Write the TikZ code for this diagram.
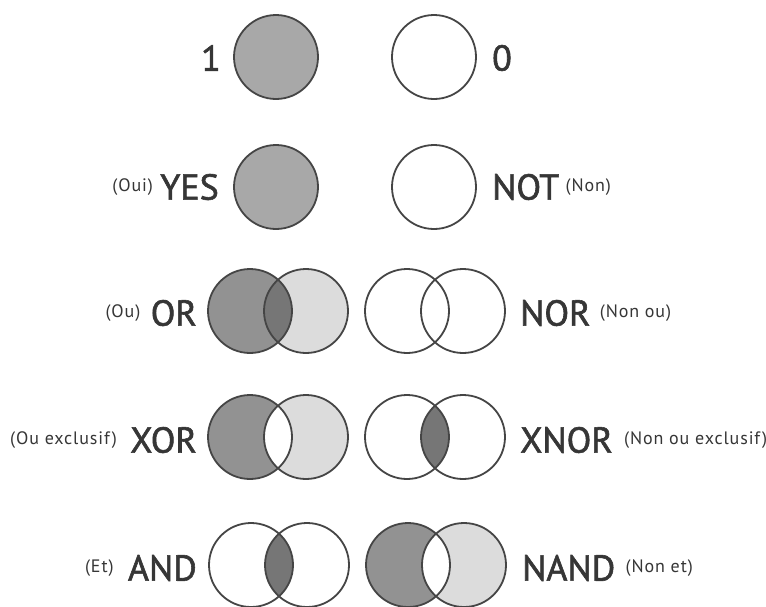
\documentclass[tikz,border=0pt]{standalone}
\usepackage{fontspec}
\setmainfont{PT Sans}
\newfontfamily\gatefont[FakeBold=1.6]{PT Sans}
\newfontfamily\glossfont[LetterSpace=5]{PT Sans}
\usetikzlibrary{positioning}

\definecolor{ink}{HTML}{363636}
\definecolor{rim}{HTML}{454545}
\definecolor{gmid}{HTML}{A8A8A8}
\definecolor{gleft}{HTML}{929292}
\definecolor{glight}{HTML}{DCDCDC}
\definecolor{glens}{HTML}{767676}

\tikzset{
	gate/.style={font=\gatefont\fontsize{36}{36}\selectfont, text=ink, inner sep=0pt},
	gloss/.style={font=\glossfont\fontsize{18}{18}\selectfont, text=ink, inner sep=0pt},
	rimline/.style={draw=rim, line width=1.8pt},
}

\begin{document}
\begin{tikzpicture}[x=1pt,y=-1pt]
	\fill[white] (0,0) rectangle (766,606);
	\useasboundingbox (0,0) rectangle (766,606);

	% Cercles simples
	\fill[gmid] (276,57) circle (42);
	\draw[rimline] (276,57) circle (42);
	\draw[rimline] (434,57) circle (42);
	\fill[gmid] (276,187) circle (42);
	\draw[rimline] (276,187) circle (42);
	\draw[rimline] (434,187) circle (42);

	% Parelles de cercles
	\foreach \x/\y/\lf/\rf/\mf in {250/311/gleft/glight/glens,
			407/311/white/white/white,
			250/437/gleft/glight/white,
			407/437/white/white/glens,
			251/565/white/white/glens,
			408/565/gleft/glight/white} {
		\fill[\lf] (\x,\y) circle (42);
		\fill[\rf] (\x+56,\y) circle (42);
		\begin{scope}
			\clip (\x,\y) circle (42);
			\fill[\mf] (\x+56,\y) circle (42);
		\end{scope}
		\draw[rimline] (\x,\y) circle (42) (\x+56,\y) circle (42);
	}

	% Etiquetes
	\node[gate, anchor=east] (one) at (221,58) {1};
	\node[gate, anchor=west] (zero) at (492,58) {0};

	\node[gate, anchor=east] (yes) at (219,187) {YES};
	\node[gloss, left=7pt of yes] (oui) {(Oui)};
	\node[gate, anchor=west] (not) at (492,187) {NOT};
	\node[gloss, right=6pt of not] (non) {(Non)};

	\node[gate, anchor=east] (or) at (197,313) {OR};
	\node[gloss, left=10pt of or] (ou) {(Ou)};
	\node[gate, anchor=west] (nor) at (520,313) {NOR};
	\node[gloss, right=9pt of nor] (nonou) {(Non ou)};

	\node[gate, anchor=east] (xor) at (197,440) {XOR};
	\node[gloss, left=13pt of xor] (ouex) {(Ou exclusif)};
	\node[gate, anchor=west] (xnor) at (520,440) {XNOR};
	\node[gloss, right=11pt of xnor] (nonouex) {(Non ou exclusif)};

	\node[gate, anchor=east] (and) at (197,568) {AND};
	\node[gloss, left=14pt of and] (et) {(Et)};
	\node[gate, anchor=west] (nand) at (522,568) {NAND};
	\node[gloss, right=10pt of nand] (nonet) {(Non et)};
\end{tikzpicture}
\end{document}
